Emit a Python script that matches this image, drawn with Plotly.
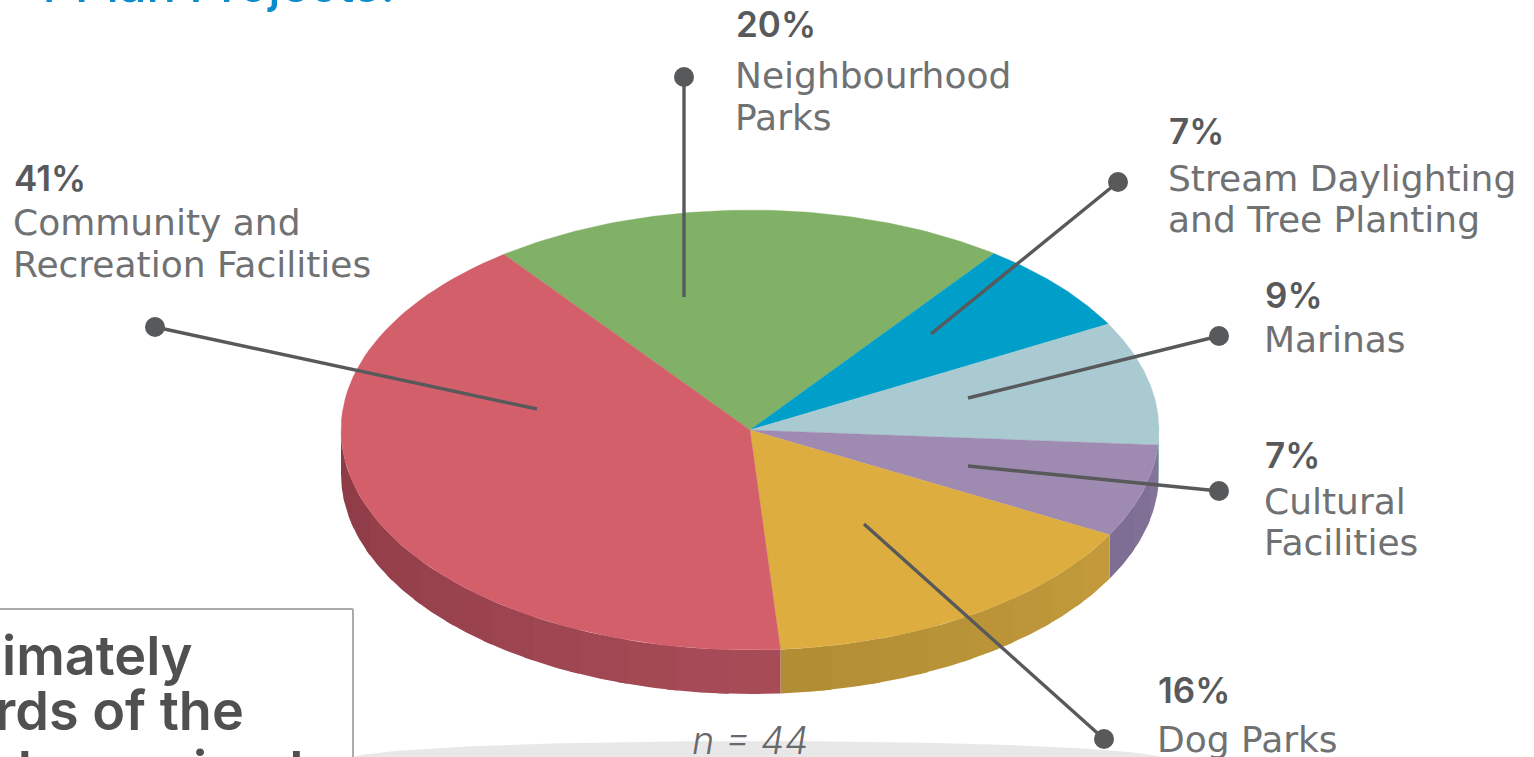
import numpy as np
import plotly.graph_objects as go

# ---- data ----
categories = ["Neighbourhood Parks", "Stream Daylighting and Tree Planting", "Marinas",
              "Cultural Facilities", "Dog Parks", "Community and Recreation Facilities"]
counts = [9, 3, 4, 3, 7, 18]   # n = 44
share_labels = ["20%", "7%", "9%", "7%", "16%", "41%"]
label_lines = [["Neighbourhood", "Parks"], ["Stream Daylighting", "and Tree Planting"], ["Marinas"],
               ["Cultural", "Facilities"], ["Dog Parks"], ["Community and", "Recreation Facilities"]]

# ---- styles and layout constants ----
top_colors = ["#80b167", "#009fca", "#a9cad0", "#9f8ab2", "#ddad40", "#d35f6b"]
wall_from = ["#80b167", "#009fca", "#8fb0b6", "#86759b", "#c39b3c", "#a84c58"]
wall_to = ["#80b167", "#009fca", "#8fb0b6", "#7c6c92", "#b08c34", "#8c3a45"]
CX, CY, RX, RY, DEPTH = 750, 430, 409, 220, 44
START = 127.0
FONT = "Inter"
LABEL_FONT = "DejaVu Sans"
INK = "#58595b"
label_x = [736, 1169, 1265, 1265, 1158, 14]
label_pct_y = [24, 131, 295, 455, 690, 178]
label_line_y = [[75, 117], [178, 219], [339], [501, 542], [739], [222, 264]]
leader_x = [[684, 684], [1118, 931], [1219, 968], [1219, 968], [1104, 864], [155, 537]]
leader_y = [[77, 297], [182, 334], [336, 398], [491, 466], [739, 524], [327, 409]]


def hex_rgb(h):
    return np.array([int(h[i:i + 2], 16) for i in (1, 3, 5)], float)


def mix(a, b, f):
    c = hex_rgb(a) * (1 - f) + hex_rgb(b) * f
    return "rgb(%d,%d,%d)" % tuple(c.round())


def ex(t):
    return CX + RX * np.cos(np.radians(t))


def ey(t):
    return CY - RY * np.sin(np.radians(t))


fig = go.Figure()


def poly(x, y, color, line=0.0):
    fig.add_trace(go.Scatter(x=list(x), y=list(y), mode="lines", fill="toself", fillcolor=color,
                             line=dict(color=color, width=line), hoverinfo="skip", showlegend=False))


# ground shadow
ts = np.linspace(0, 360, 181)
poly(757 + 410 * np.cos(np.radians(ts)), 760 - 19 * np.sin(np.radians(ts)), "#e8e8e8")

# slice angles from the counts
angles = START - np.cumsum([0] + counts) / sum(counts) * 360

# side walls
for i in range(len(counts)):
    a0, a1 = angles[i], angles[i + 1]
    hi = min(a0, 0.0)
    lo = max(a1, -180.0)
    if hi <= lo:
        continue
    n = max(1, int((hi - lo) / 7))
    edges = np.linspace(hi, lo, n + 1)
    for k in range(n):
        end = edges[k + 1]
        if k < n - 1:
            end = end - 1.5  # overlap so that no seam shows between bands
        t = np.linspace(edges[k], end, 12)
        poly(np.r_[ex(t), ex(t[::-1])], np.r_[ey(t), ey(t[::-1]) + DEPTH],
             mix(wall_from[i], wall_to[i], (k + 0.5) / n))

# top faces
for i in range(len(counts)):
    t = np.linspace(angles[i], angles[i + 1], 80)
    poly(np.r_[CX, ex(t), CX], np.r_[CY, ey(t), CY], top_colors[i], 0.3)

# leader lines
for lx, ly in zip(leader_x, leader_y):
    fig.add_trace(go.Scatter(x=lx, y=ly, mode="lines+markers", line=dict(color=INK, width=3.4),
                             marker=dict(color=INK, size=[20, 0], opacity=1, line=dict(width=0)),
                             hoverinfo="skip", showlegend=False))

ann = []
for i in range(len(counts)):
    ann.append(dict(x=label_x[i], y=label_pct_y[i], text=share_labels[i], xanchor="left", yanchor="middle",
                    showarrow=False, xshift=-2, font=dict(family=FONT, size=35, color=INK, weight=600)))
    for txt, y in zip(label_lines[i], label_line_y[i]):
        ann.append(dict(x=label_x[i], y=y, text=txt, xanchor="left", yanchor="middle", showarrow=False,
                        xshift=-3, font=dict(family=LABEL_FONT, size=36, color="#707173", weight=400)))

ann.append(dict(x=750, y=740, text="<i>n = 44</i>", xanchor="center", yanchor="middle", showarrow=False,
                font=dict(family=FONT, size=38, color="#68696b", weight=300)))
# clipped heading and call-out box text
ann.append(dict(x=397, y=16, text="r Plan Projects:", xanchor="right", yanchor="bottom", showarrow=False,
                font=dict(family=FONT, size=49, color="#0a8bcb", weight=500)))
for txt, rx, y, anc in [("imately", 195, 655, "middle"), ("rds of the", 246, 710, "middle"),
                        ("ple received", 305, 736, "top")]:
    ann.append(dict(x=rx, y=y, text=txt, xanchor="right", yanchor=anc, showarrow=False,
                    font=dict(family=FONT, size=54, color="#4f5052", weight=600)))

fig.update_layout(
    width=1534, height=757, margin=dict(l=0, r=0, t=0, b=0), showlegend=False,
    paper_bgcolor="white", plot_bgcolor="white",
    xaxis=dict(range=[0, 1534], visible=False, fixedrange=True),
    yaxis=dict(range=[757, 0], visible=False, fixedrange=True),
    annotations=ann,
    shapes=[dict(type="line", xref="x", yref="y", x0=0, x1=353, y0=609, y1=609, line=dict(color="#a9abad", width=2)),
            dict(type="line", xref="x", yref="y", x0=353, x1=353, y0=609, y1=757, line=dict(color="#a9abad", width=2))],
)
fig.write_html("out.html", config=dict(displayModeBar=False),
               post_script="document.body.style.margin='0';document.body.style.overflow='hidden';")
